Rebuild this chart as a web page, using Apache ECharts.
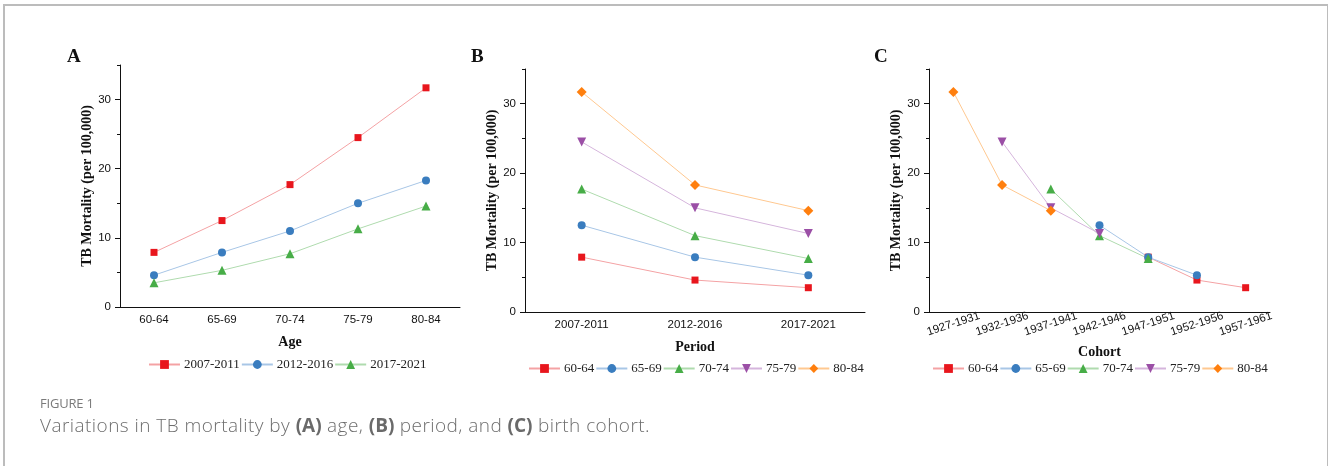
<!DOCTYPE html>
<html>
<head>
<meta charset="utf-8">
<script src="https://cdn.jsdelivr.net/npm/echarts@6/dist/echarts.min.js"></script>
<style>
  html, body { margin: 0; padding: 0; background: #fff; }
  #wrap { position: relative; width: 1328px; height: 466px; overflow: hidden; }
  #frame {
    position: absolute; left: 3px; top: 4px; width: 1322px; height: 470px;
    border: 2px solid #bcbcbc; border-bottom: none;
  }
  #chart { position: absolute; left: 0; top: 0; width: 1328px; height: 466px; }
  .fig-label {
    position: absolute; left: 40px; top: 394px; font-family: 'Open Sans', sans-serif;
    font-size: 13px; line-height: 18px; color: #7a7a7a; letter-spacing: -0.2px;
  }
  .fig-caption {
    position: absolute; left: 40px; top: 412px; font-family: 'Open Sans', sans-serif;
    font-size: 19px; line-height: 26px; font-weight: 300; color: #6e6e6e; letter-spacing: 0.45px;
    white-space: nowrap;
  }
  .fig-caption b { font-weight: 700; color: #6a6a6a; letter-spacing: 0; }
</style>
</head>
<body>
<div id="wrap">
  <div id="frame"></div>
  <div id="chart"></div>
  <div class="fig-label">FIGURE 1</div>
  <div class="fig-caption">Variations in TB mortality by <b>(A)</b> age, <b>(B)</b> period, and <b>(C)</b> birth cohort.</div>
</div>
<script>
// categories
const ageGroups = ['60-64', '65-69', '70-74', '75-79', '80-84']
const periods = ['2007-2011', '2012-2016', '2017-2021']
const cohorts = ['1927-1931', '1932-1936', '1937-1941', '1942-1946', '1947-1951', '1952-1956', '1957-1961']

// y tick labels
const majorTicks = [0, 10, 20, 30]
const minorTicks = [5, 15, 25, 35]

// panel A: mortality by age, one line per period
const rate2007 = [7.9, 12.5, 17.7, 24.5, 31.7]
const rate2012 = [4.6, 7.9, 11.0, 15.0, 18.3]
const rate2017 = [3.5, 5.3, 7.7, 11.3, 14.6]

// panel B: mortality by period, one line per age group
const period6064 = [7.9, 4.6, 3.5]
const period6569 = [12.5, 7.9, 5.3]
const period7074 = [17.7, 11.0, 7.7]
const period7579 = [24.5, 15.0, 11.3]
const period8084 = [31.7, 18.3, 14.6]

// panel C: mortality by birth cohort, one line per age group
const cohort6064 = [null, null, null, null, 7.9, 4.6, 3.5]
const cohort6569 = [null, null, null, 12.5, 7.9, 5.3, null]
const cohort7074 = [null, null, 17.7, 11.0, 7.7, null, null]
const cohort7579 = [null, 24.5, 15.0, 11.3, null, null, null]
const cohort8084 = [31.7, 18.3, 14.6, null, null, null, null]

const RED = { mark: '#e8161d', line: '#f4a2a4', symbol: 'rect', size: 7 }
const BLUE = { mark: '#3a7dbf', line: '#a8c6e6', symbol: 'circle', size: 8 }
const GREEN = { mark: '#47ad47', line: '#afdbae', symbol: 'triangle', size: 9 }
const PURPLE = { mark: '#9b4fa6', line: '#d5b5dc', symbol: 'triangle', size: 9, rotate: 180 }
const ORANGE = { mark: '#ff7f0e', line: '#ffc890', symbol: 'diamond', size: 10 }

const serif = "'Liberation Serif', 'Times New Roman', serif"
const sans = "'Liberation Sans', Arial, sans-serif"

const grids = [
  { left: 120, top: 65, width: 340, height: 242 },
  { left: 525, top: 69, width: 340, height: 243 },
  { left: 929, top: 69, width: 341, height: 243 },
]

const makeX = (gridIndex, data, name, opts = {}) => [
  {
    type: 'category',
    gridIndex,
    position: 'bottom',
    data,
    boundaryGap: true,
    name,
    nameLocation: 'middle',
    nameGap: opts.nameGap || 28,
    nameTextStyle: { fontFamily: serif, fontWeight: 'bold', fontSize: 14, color: '#111' },
    axisLine: { lineStyle: { color: '#111', width: 1 } },
    axisTick: { alignWithLabel: true, length: 5, interval: 0, lineStyle: { color: '#111' } },
    axisLabel: Object.assign(
      { interval: 0, fontFamily: sans, fontSize: 11.5, color: '#111', margin: 7 },
      opts.label || {}
    ),
    splitLine: { show: false },
  },
  {
    type: 'category',
    gridIndex,
    position: 'bottom',
    data,
    boundaryGap: true,
    axisLine: { show: false },
    axisTick: { length: 3, interval: 0, lineStyle: { color: '#111' } },
    axisLabel: { show: false },
    splitLine: { show: false },
  },
]

const makeY = (gridIndex) => [
  {
    type: 'value',
    gridIndex,
    position: 'left',
    min: 0,
    max: 35,
    interval: 5,
    name: 'TB Mortality (per 100,000)',
    nameLocation: 'middle',
    nameGap: 24,
    nameTextStyle: { fontFamily: serif, fontWeight: 'bold', fontSize: 14, color: '#111' },
    axisLine: { show: true, lineStyle: { color: '#111', width: 1 } },
    axisTick: { show: true, length: 3, customValues: minorTicks, lineStyle: { color: '#111' } },
    axisLabel: { customValues: majorTicks, fontFamily: sans, fontSize: 11.5, color: '#111', margin: 9 },
    splitLine: { show: false },
  },
  {
    type: 'value',
    gridIndex,
    position: 'left',
    min: 0,
    max: 35,
    interval: 5,
    axisLine: { show: false },
    axisTick: { show: true, length: 5, customValues: majorTicks, lineStyle: { color: '#111' } },
    axisLabel: { show: false },
    splitLine: { show: false },
  },
]

const line = (name, data, style, axisIndex) => ({
  name,
  type: 'line',
  data,
  xAxisIndex: axisIndex,
  yAxisIndex: axisIndex,
  symbol: style.symbol,
  symbolSize: style.size,
  symbolRotate: style.rotate || 0,
  itemStyle: { color: style.mark },
  lineStyle: { color: style.line, width: 1 },
  emphasis: { disabled: true },
})

const legendBase = {
  orient: 'horizontal',
  padding: 0,
  itemGap: 1,
  itemWidth: 31,
  itemHeight: 11,
  textStyle: { fontFamily: serif, fontSize: 13, color: '#222', padding: [0, 0, 0, -1] },
}

const chart = echarts.init(document.getElementById('chart'))
chart.setOption({
  animation: false,
  title: [
    { text: 'A', left: 62, top: 43, textStyle: { fontFamily: serif, fontWeight: 'bold', fontSize: 19, color: '#111' } },
    { text: 'B', left: 466, top: 43, textStyle: { fontFamily: serif, fontWeight: 'bold', fontSize: 19, color: '#111' } },
    { text: 'C', left: 869, top: 43, textStyle: { fontFamily: serif, fontWeight: 'bold', fontSize: 19, color: '#111' } },
  ],
  legend: [
    Object.assign({}, legendBase, { left: 148, top: 358, data: periods }),
    Object.assign({}, legendBase, { left: 528, top: 362, data: ageGroups }),
    Object.assign({}, legendBase, { left: 932, top: 362, data: ageGroups }),
  ],
  grid: grids,
  xAxis: [
    ...makeX(0, ageGroups, 'Age'),
    ...makeX(1, periods, 'Period'),
    ...makeX(2, cohorts, 'Cohort', {
      nameGap: 33,
      label: { rotate: 18, align: 'center', verticalAlign: 'middle', margin: 12 },
    }),
  ],
  yAxis: [...makeY(0), ...makeY(1), ...makeY(2)],
  series: [
    line('2007-2011', rate2007, RED, 0),
    line('2012-2016', rate2012, BLUE, 0),
    line('2017-2021', rate2017, GREEN, 0),

    line('60-64', period6064, RED, 2),
    line('65-69', period6569, BLUE, 2),
    line('70-74', period7074, GREEN, 2),
    line('75-79', period7579, PURPLE, 2),
    line('80-84', period8084, ORANGE, 2),

    line('60-64', cohort6064, RED, 4),
    line('65-69', cohort6569, BLUE, 4),
    line('70-74', cohort7074, GREEN, 4),
    line('75-79', cohort7579, PURPLE, 4),
    line('80-84', cohort8084, ORANGE, 4),
  ],
})
</script>
</body>
</html>
